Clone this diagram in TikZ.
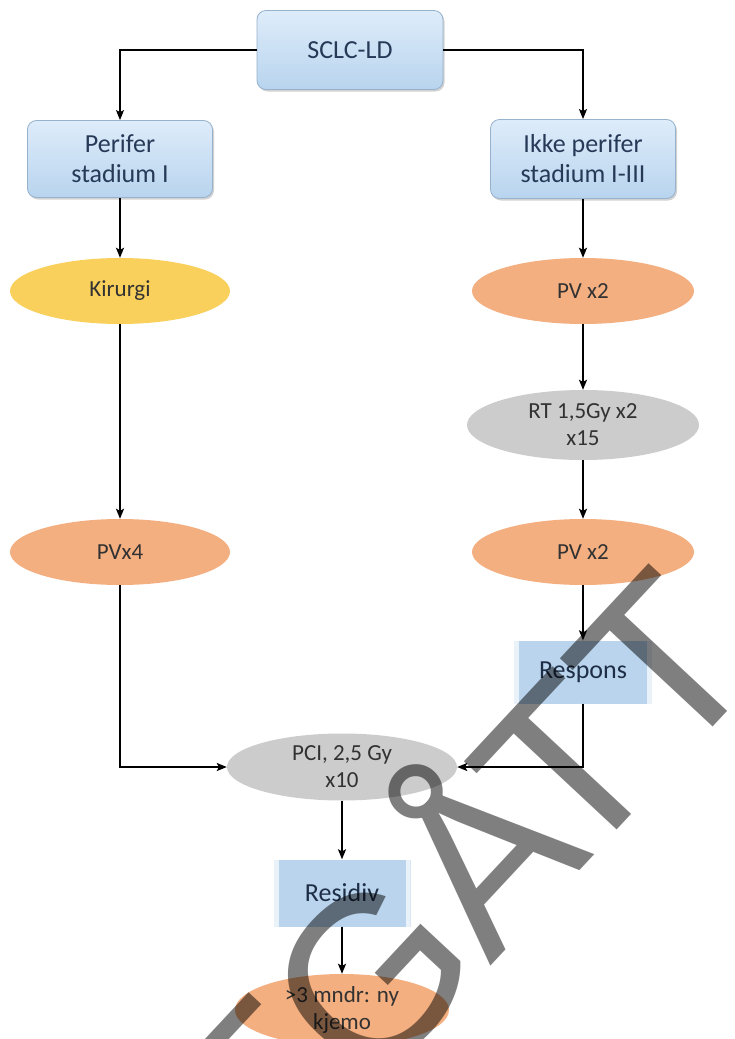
\documentclass[tikz,border=0pt]{standalone}
\usepackage{fontspec}
\setmainfont{Carlito}
\newfontfamily\wmfont{Liberation Sans}
\usetikzlibrary{shapes.geometric,arrows.meta,shadows}
\definecolor{boxtxt}{RGB}{38,58,88}
\definecolor{boxtop}{RGB}{222,236,250}
\definecolor{boxbot}{RGB}{184,212,238}
\definecolor{boxedge}{RGB}{150,178,205}
\definecolor{flatblue}{RGB}{186,212,237}
\definecolor{elltxt}{RGB}{50,50,50}
\definecolor{yellowell}{RGB}{250,208,92}
\definecolor{orangeell}{RGB}{244,175,128}
\definecolor{grayell}{RGB}{204,204,204}
\tikzset{
  roundbox/.style={draw=boxedge, line width=0.8pt, rounded corners=9pt,
    top color=boxtop, bottom color=boxbot, text=boxtxt, align=center,
    inner sep=0pt, font=\fontsize{26}{30}\selectfont,
    drop shadow={shadow xshift=1.5pt, shadow yshift=-2pt, opacity=0.35}},
  flatbox/.style={fill=flatblue, text=boxtxt!80!black, align=center, inner sep=0pt,
    font=\fontsize{26}{30}\selectfont,
    path picture={
      \fill[white,opacity=0.7] (path picture bounding box.north west) rectangle ([xshift=5pt]path picture bounding box.south west);
      \fill[white,opacity=0.7] (path picture bounding box.north east) rectangle ([xshift=-5pt]path picture bounding box.south east);
    }},
  ell/.style={ellipse, inner sep=0pt, align=center, text=elltxt,
    font=\fontsize{23}{27}\selectfont},
  arr/.style={-{Stealth[length=10pt,width=8pt,inset=2pt]}, line width=1.4pt, black},
}
\begin{document}
\begin{tikzpicture}[x=1pt,y=-1pt]
\useasboundingbox (0,0) rectangle (734,1039);
\fill[white] (0,0) rectangle (734,1039);

% boxes
\node[roundbox, minimum width=186pt, minimum height=79pt] (sclc) at (350,50) {SCLC-LD};
\node[roundbox, minimum width=185pt, minimum height=77pt] (perifer) at (120,159) {Perifer\\stadium I};
\node[roundbox, minimum width=185pt, minimum height=79pt] (ikke) at (583,159) {Ikke perifer\\stadium I-III};

% ellipses
\node[ell, fill=yellowell, minimum width=220pt, minimum height=66pt] (kirurgi) at (120,291) {Kirurgi};
\node[ell, fill=orangeell, minimum width=222pt, minimum height=66pt] (pv1) at (583,291) {PV x2};
\node[ell, fill=grayell, minimum width=232pt, minimum height=70pt] (rt) at (583,425) {RT 1,5Gy x2\\x15};
\node[ell, fill=orangeell, minimum width=222pt, minimum height=66pt] (pv2) at (583,552) {PV x2};
\node[ell, fill=orangeell, minimum width=220pt, minimum height=66pt] (pvx4) at (120,552) {PVx4};
\node[flatbox, minimum width=138pt, minimum height=63pt] (respons) at (583,672) {Respons};
\node[ell, fill=grayell, minimum width=230pt, minimum height=67pt] (pci) at (342,767) {PCI, 2,5 Gy\\x10};
\node[flatbox, minimum width=137pt, minimum height=67pt] (residiv) at (342,893) {Residiv};
\node[ell, fill=orangeell, minimum width=214pt, minimum height=72pt] (kjemo) at (342,1010) {>3 mndr: ny\\kjemo};

% connectors
\draw[arr] (sclc.west) -| (perifer.north);
\draw[arr] (sclc.east) -| (ikke.north);
\draw[arr] (perifer.south) -- (kirurgi.north);
\draw[arr] (kirurgi.south) -- (pvx4.north);
\draw[arr] (ikke.south) -- (pv1.north);
\draw[arr] (pv1.south) -- (rt.north);
\draw[arr] (rt.south) -- (pv2.north);
\draw[arr] (pv2.south) -- (respons.north);
\draw[arr] (pvx4.south) |- (pci.west);
\draw[arr] (respons.south) |- (pci.east);
\draw[arr] (pci.south) -- (residiv.north);
\draw[arr] (residiv.south) -- (kjemo.north);

% watermark
\begin{scope}
\clip (0,0) rectangle (734,1039);
\node[anchor=base east, rotate=47, inner sep=0pt, text=black, text opacity=0.5,
  font=\wmfont\fontsize{230}{230}\selectfont] (wm) at (768,668) {UTGÅ\kern-27ptTT};
\end{scope}
\end{tikzpicture}
\end{document}
